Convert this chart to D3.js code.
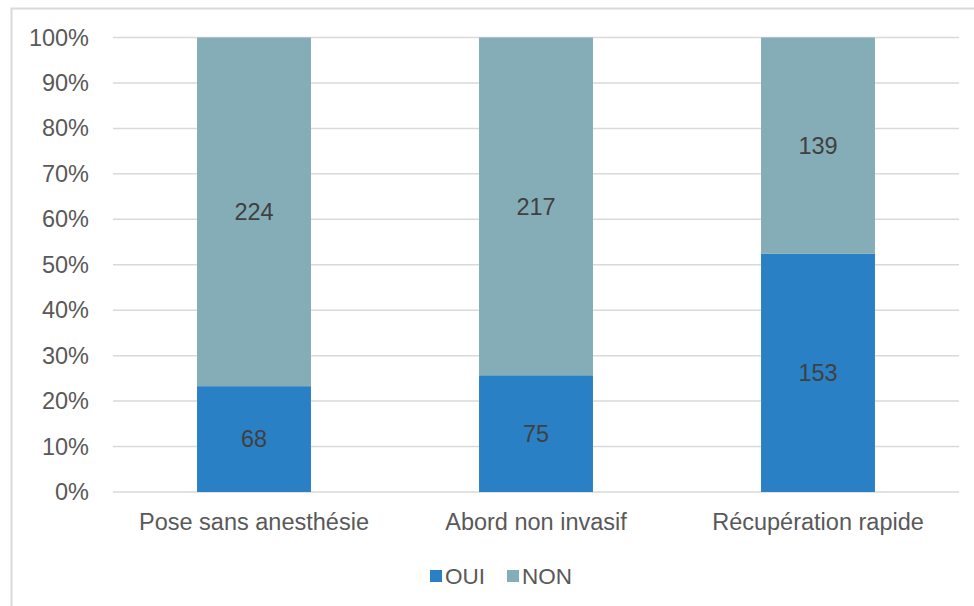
<!DOCTYPE html>
<html>
<head>
<meta charset="utf-8">
<script src="https://d3js.org/d3.v7.min.js"></script>
<style>
  body { margin: 0; background: #fff; }
  svg text { font-family: "Liberation Sans", Arial, Helvetica, sans-serif; }
</style>
</head>
<body>
<div id="chart"></div>
<script>
// data
const categories = ["Pose sans anesthésie", "Abord non invasif", "Récupération rapide"];
const series = ["OUI", "NON"];
const oui = [68, 75, 153];
const non = [224, 217, 139];
const yTicks = [0, 0.1, 0.2, 0.3, 0.4, 0.5, 0.6, 0.7, 0.8, 0.9, 1];
const colors = {OUI: "#2a80c5", NON: "#85adb7"};

const W = 974, H = 606;
const margin = {top: 37.5, right: 15, bottom: 114, left: 113};
const width = W - margin.left - margin.right,
      height = H - margin.top - margin.bottom;

const svg = d3.select("#chart").append("svg")
    .attr("width", W).attr("height", H);

// chart frame (clipped by the picture on right and bottom)
svg.append("rect")
    .attr("x", 11.5).attr("y", 8.5)
    .attr("width", W + 20).attr("height", H + 20)
    .attr("fill", "none").attr("stroke", "#d9d9d9").attr("stroke-width", 2);

const g = svg.append("g").attr("transform", `translate(${margin.left},${margin.top})`);

const rows = categories.map((c, i) => ({cat: c, OUI: oui[i], NON: non[i]}));
const stacked = d3.stack().keys(series).offset(d3.stackOffsetExpand)(rows);

const x = d3.scaleBand().domain(categories).range([0, width]).paddingInner(0.596).paddingOuter(0.298);
const y = d3.scaleLinear().domain([0, 1]).range([height, 0]);

// grid
g.selectAll(".grid").data(yTicks).join("line")
    .attr("x1", 0).attr("x2", width)
    .attr("y1", d => y(d)).attr("y2", d => y(d))
    .attr("stroke", "#d9d9d9").attr("stroke-width", 1.5);

// y axis labels
const yAxis = g.append("g").attr("transform", "translate(-24,0)")
    .call(d3.axisLeft(y).tickValues(yTicks).tickFormat(d3.format(".0%")).tickSize(0).tickPadding(0));
yAxis.select(".domain").remove();
yAxis.selectAll("text").attr("fill", "#595959").attr("font-size", 23.5)
    .style("font-family", "'Liberation Sans', Arial, sans-serif");

// bars
const layer = g.selectAll(".layer").data(stacked).join("g")
    .attr("fill", d => colors[d.key]);
layer.selectAll("rect").data(d => d).join("rect")
    .attr("x", d => x(d.data.cat))
    .attr("width", x.bandwidth())
    .attr("y", d => y(d[1]))
    .attr("height", d => y(d[0]) - y(d[1]));

// value labels
layer.each(function(s) {
  d3.select(this).selectAll("text").data(s).join("text")
    .attr("x", d => x(d.data.cat) + x.bandwidth() / 2)
    .attr("y", d => (y(d[0]) + y(d[1])) / 2)
    .attr("dy", "0.35em")
    .attr("text-anchor", "middle")
    .attr("fill", "#404040").attr("font-size", 23.5)
    .text(d => d.data[s.key]);
});

// x axis labels
const xAxis = g.append("g").attr("transform", `translate(0,${height + 22})`)
    .call(d3.axisBottom(x).tickSize(0).tickPadding(0));
xAxis.select(".domain").remove();
xAxis.selectAll("text").attr("fill", "#595959").attr("font-size", 23.5).attr("dy", "0.7em")
    .style("font-family", "'Liberation Sans', Arial, sans-serif");

// legend
const legendPos = [{key: "OUI", x: 430}, {key: "NON", x: 507}];
const leg = svg.selectAll(".leg").data(legendPos).join("g")
    .attr("transform", d => `translate(${d.x},570)`);
leg.append("rect").attr("width", 12).attr("height", 12).attr("fill", d => colors[d.key]);
leg.append("text").attr("x", 15).attr("y", 6).attr("dy", "0.36em")
    .attr("fill", "#595959").attr("font-size", 22.5).text(d => d.key);
</script>
</body>
</html>
